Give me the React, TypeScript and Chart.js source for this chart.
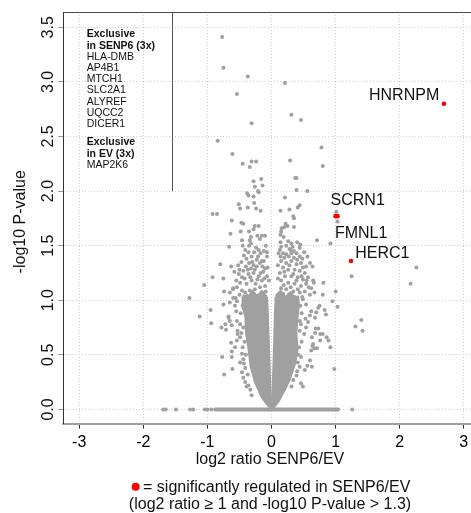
import React, { useEffect, useRef } from "react";
import { Chart, registerables } from "chart.js";

Chart.register(...registerables);

// ---------- data ----------
const xTickValues = [-3, -2, -1, 0, 1, 2, 3];
const yTickValues = [0, 0.5, 1, 1.5, 2, 2.5, 3, 3.5];
const yTickLabels = ["0.0", "0.5", "1.0", "1.5", "2.0", "2.5", "3.0", "3.5"];

// individual (non-significant) proteins: [log2 ratio, -log10 P]
const greyPoints: [number, number][] = [
  [-0.77, 3.41], [-0.75, 3.13], [-0.37, 3.05], [-0.54, 2.89], [-0.31, 2.62], [0.21, 2.99], [0.31, 2.7], [0.46, 2.65],
  [-0.84, 2.46], [-0.61, 2.34], [-0.45, 2.25], [-0.31, 2.27], [-0.24, 2.27], [-0.34, 2.22], [0.29, 2.28], [0.78, 2.4], [0.8, 2.23],
  [-0.28, 2.09], [-0.16, 2.11], [-0.26, 2.04], [-0.14, 2.05], [-0.21, 2.0], [0.37, 2.12], [0.39, 2.12], [0.39, 2.01], [0.56, 2.0],
  [0.21, 1.94], [-0.38, 1.98], [-0.36, 1.96], [-0.28, 1.95], [-0.2, 1.99],
  [-0.27, 1.89], [-0.51, 1.88], [-0.49, 1.84], [-0.37, 1.85], [-0.24, 1.84], [-0.17, 1.82],
  [-0.92, 1.79], [-0.85, 1.79], [-0.62, 1.73], [-0.64, 1.61], [-0.66, 1.49], [-0.8, 1.33], [-0.63, 1.31], [-0.92, 1.21],
  [-0.75, 1.2], [-1.05, 1.14], [-0.58, 1.26], [-1.28, 1.02], [-0.74, 1.08], [-0.95, 0.91], [-0.75, 0.96], [-1.12, 0.85],
  [-0.94, 0.79], [-0.67, 0.84], [-0.78, 0.75], [-0.71, 0.73], [-0.72, 0.78], [-0.63, 0.61], [-0.77, 0.48], [-0.62, 0.53],
  [-0.74, 0.32], [-0.61, 0.37], [-0.62, 0.48], [-0.6, 1.11], [-0.54, 0.99], [-0.55, 0.9],
  [-0.47, 1.71], [-0.44, 1.7], [-0.26, 1.68], [-0.2, 1.68], [-0.48, 1.63], [-0.35, 1.63], [-0.28, 1.65], [-0.32, 1.58],
  [-0.34, 1.55], [-0.32, 1.52], [-0.35, 1.5], [-0.22, 1.59], [-0.15, 1.59], [-0.1, 1.59], [-0.18, 1.56], [-0.46, 1.55],
  [-0.45, 1.5], [-0.24, 1.48], [-0.2, 1.46], [-0.12, 1.45], [-0.07, 1.44], [-0.41, 1.46], [-0.43, 1.41], [-0.39, 1.38],
  [-0.31, 1.4], [-0.17, 1.43], [-0.23, 1.37], [-0.15, 1.36], [-0.07, 1.4],
  [-0.5, 1.28], [-0.51, 1.24], [-0.46, 1.21],
  [-0.4, 1.31], [-0.35, 1.34], [-0.32, 1.29], [-0.28, 1.32], [-0.23, 1.31], [-0.26, 1.28], [-0.18, 1.34], [-0.14, 1.31], [-0.1, 1.29],
  [-0.39, 1.15], [-0.49, 1.16], [-0.31, 1.18], [-0.22, 1.19], [-0.15, 1.18], [-0.36, 1.24], [-0.28, 1.25], [-0.2, 1.22],
  [-0.13, 1.26], [-0.07, 1.22], [-0.04, 1.18], [-0.1, 1.13], [-0.18, 1.12], [-0.26, 1.1], [-0.34, 1.09], [-0.41, 1.07],
  [-0.46, 1.09], [-0.54, 1.12], [-0.6, 1.1], [-0.65, 1.07],
  [-0.44, 1.02], [-0.38, 1.04], [-0.3, 1.06], [-0.22, 1.04], [-0.14, 1.06], [-0.09, 1.08], [-0.42, 1.2], [-0.33, 1.21],
  [-0.25, 1.15], [-0.17, 1.25], [-0.11, 1.2], [-0.06, 1.3], [-0.44, 1.27], [-0.37, 1.28], [-0.3, 1.35], [-0.21, 1.4],
  [-0.12, 1.36], [-0.09, 1.5], [-0.27, 1.44], [-0.36, 1.44], [-0.47, 1.35], [-0.52, 1.32], [-0.55, 1.18], [-0.5, 1.05], [-0.56, 1.02],
  [-0.45, 0.95], [-0.48, 0.88], [-0.44, 0.75], [-0.47, 0.7], [-0.42, 0.62], [-0.45, 0.57], [-0.4, 0.5], [-0.41, 0.38], [-0.37, 0.32],
  [0.44, 1.87], [0.41, 1.85], [0.14, 1.82], [0.28, 1.83], [0.34, 1.77], [0.35, 1.75], [0.22, 1.7], [0.25, 1.68], [0.16, 1.66],
  [0.2, 1.67], [0.15, 1.63], [0.35, 1.67], [0.14, 1.6], [0.19, 1.58], [0.71, 1.55], [0.92, 1.52],
  [0.14, 1.53], [0.15, 1.49], [0.26, 1.54], [0.31, 1.52], [0.23, 1.5], [0.4, 1.53], [0.45, 1.51], [0.44, 1.48], [0.33, 1.49],
  [0.28, 1.47], [0.35, 1.45], [0.13, 1.46], [0.18, 1.43], [0.14, 1.4], [0.23, 1.42], [0.27, 1.4], [0.31, 1.43], [0.39, 1.43],
  [0.44, 1.4], [0.51, 1.44], [0.56, 1.4],
  [0.15, 1.36], [0.23, 1.34], [0.31, 1.36], [0.39, 1.33], [0.46, 1.34], [0.54, 1.31], [0.6, 1.34], [0.18, 1.3], [0.26, 1.28],
  [0.36, 1.28], [0.44, 1.27], [0.52, 1.25], [0.13, 1.25], [0.21, 1.22], [0.31, 1.22], [0.41, 1.21], [0.49, 1.19], [0.57, 1.21],
  [0.65, 1.18], [0.15, 1.18], [0.26, 1.16], [0.36, 1.15], [0.46, 1.13], [0.54, 1.15], [0.62, 1.11], [0.15, 1.11], [0.23, 1.1],
  [0.34, 1.08], [0.44, 1.07], [0.52, 1.08], [0.6, 1.05], [0.67, 1.07],
  [0.1, 1.05], [0.18, 1.06], [0.27, 1.05], [0.36, 1.03], [0.41, 1.1], [0.48, 1.03], [0.1, 1.2], [0.19, 1.14], [0.3, 1.12],
  [0.39, 1.18], [0.47, 1.22], [0.1, 1.32], [0.2, 1.26], [0.28, 1.32], [0.34, 1.24], [0.4, 1.37], [0.49, 1.3], [0.11, 1.43],
  [0.2, 1.39], [0.35, 1.39], [0.48, 1.38], [0.3, 1.46], [0.55, 1.18], [0.58, 1.12],
  [0.45, 0.95], [0.47, 0.88], [0.44, 0.72], [0.47, 0.62], [0.43, 0.57], [0.42, 0.5], [0.4, 0.35],
  [1.01, 1.81], [1.03, 1.72], [1.25, 1.22], [2.26, 1.3], [2.17, 1.15], [0.81, 1.16], [0.66, 1.16], [1.0, 1.08], [1.03, 0.94],
  [1.4, 0.82], [1.31, 0.76], [1.42, 0.72], [0.98, 0.37],
  [0.63, 0.66], [0.68, 0.7], [0.76, 0.69], [0.8, 0.69], [0.86, 0.66], [0.89, 0.63], [0.92, 0.57], [0.69, 0.74], [0.64, 0.58],
  [0.71, 0.56], [0.76, 0.63],
  [0.73, 0.93], [0.75, 0.95], [0.49, 1.01], [0.54, 0.96], [0.62, 0.9], [0.6, 0.86], [0.65, 0.6], [0.67, 0.56], [0.62, 0.54],
  [0.51, 0.69], [0.54, 0.75], [0.46, 0.78], [0.44, 0.81], [0.53, 0.83], [0.57, 0.8], [0.6, 0.45], [0.56, 0.4], [0.52, 0.36],
  [0.46, 0.48], [0.41, 0.43], [0.44, 0.39], [0.39, 0.31], [0.46, 0.24], [0.34, 0.27], [0.31, 0.21],
  [0.95, 0.99], [0.8, 1.05], [0.83, 0.91], [0.85, 0.87], [0.64, 1.31], [0.7, 0.89], [0.68, 0.84], [0.73, 0.74], [0.63, 0.39], [0.49, 0.21],
  [-0.6, 1.02], [-0.65, 0.98], [-0.57, 0.95], [-0.67, 0.85], [-0.65, 0.81], [-0.62, 0.77], [-0.54, 0.81], [-0.49, 0.78],
  [-0.53, 0.72], [-0.53, 0.69], [-0.49, 0.66], [-0.54, 0.63], [-0.57, 0.57], [-0.46, 0.51], [-0.44, 0.46], [-0.49, 0.43],
  [-0.43, 0.42], [-0.46, 0.34], [-0.44, 0.29], [-0.41, 0.25], [-0.39, 0.21], [-0.33, 0.18], [-0.31, 0.13], [-0.36, 0.22],
];

// proteins with -log10 P = 0 outside the dense run
const zeroRowX = [-1.69, -1.65, -1.49, -1.27, -1.22, -1.04, -1.0, -0.94, 1.26];
// continuous runs of overlapping proteins at -log10 P = 0
const zeroRuns: [number, number][] = [[-0.88, 0.65], [0.68, 0.8], [0.83, 1.04]];

// outlines of the saturated (fully overlapping) cores of the volcano
const coreLeft: [number, number][] = [
  [-0.08, 1.03], [-0.15, 1.08], [-0.22, 1.03], [-0.3, 1.08], [-0.37, 1.01], [-0.43, 1.04], [-0.45, 0.95], [-0.4, 0.85],
  [-0.39, 0.7], [-0.35, 0.55], [-0.32, 0.4], [-0.25, 0.25], [-0.15, 0.12], [-0.08, 0.06], [-0.02, 0.02], [-0.01, 0.06],
  [-0.025, 0.18], [-0.045, 0.54], [-0.07, 0.95], [-0.08, 1.03],
];
const coreRight: [number, number][] = [
  [0.07, 1.03], [0.14, 1.08], [0.22, 1.02], [0.3, 1.07], [0.37, 1.0], [0.41, 1.03], [0.42, 0.95], [0.4, 0.85], [0.38, 0.7],
  [0.4, 0.55], [0.36, 0.42], [0.28, 0.28], [0.2, 0.18], [0.11, 0.08], [0.03, 0.02], [0.01, 0.06], [0.025, 0.18],
  [0.045, 0.54], [0.065, 0.95], [0.07, 1.03],
];

// significantly regulated
const sigGenes = ["HNRNPM", "SCRN1", "FMNL1", "HERC1"];
const sigLog2 = [2.69, 1.0, 1.03, 1.24];
const sigP = [2.8, 1.77, 1.77, 1.36];

const exclusiveSenp6 = ["HLA-DMB", "AP4B1", "MTCH1", "SLC2A1", "ALYREF", "UQCC2", "DICER1"];
const exclusiveEv = ["MAP2K6"];

// ---------- styles ----------
const GREY = "#a0a0a0";
const RED = "#ff0000";
const FONT = "'Liberation Sans', Arial, Helvetica, sans-serif";
const legendEdge = { x: -1.55, y: 2.0 };
// [dx, dy(baseline), align] relative to point pixel
const labelOffsets: [number, number, CanvasTextAlign][] = [
  [-4.7, -3.3, "right"],
  [-5, -11.4, "left"],
  [-2.6, 22, "left"],
  [4.3, -3.3, "left"],
];

const annotate = {
  id: "annotate",
  afterDatasetsDraw(chart: any) {
    const { ctx, chartArea: a, scales } = chart;
    const xs = scales.x;
    const ys = scales.y;
    ctx.save();
    // top frame line
    ctx.strokeStyle = "#4a4a4a";
    ctx.lineWidth = 1;
    ctx.beginPath();
    ctx.moveTo(a.left, a.top + 0.5);
    ctx.lineTo(chart.width, a.top + 0.5);
    ctx.stroke();
    // legend box edge
    const bx = Math.round(xs.getPixelForValue(legendEdge.x)) + 0.5;
    ctx.strokeStyle = "#555";
    ctx.beginPath();
    ctx.moveTo(bx, a.top);
    ctx.lineTo(bx, ys.getPixelForValue(legendEdge.y));
    ctx.stroke();

    // legend text
    ctx.fillStyle = "#111";
    ctx.textAlign = "left";
    ctx.textBaseline = "alphabetic";
    const lx = a.left + 23.5;
    let by = a.top + 25.4;
    const lh = 11.2;
    ctx.font = `bold 10.5px ${FONT}`;
    ctx.fillText("Exclusive", lx, by); by += lh;
    ctx.fillText("in SENP6 (3x)", lx, by); by += lh;
    ctx.font = `10.5px ${FONT}`;
    exclusiveSenp6.forEach((g) => { ctx.fillText(g, lx, by); by += lh; });
    by += 7.2;
    ctx.font = `bold 10.5px ${FONT}`;
    ctx.fillText("Exclusive", lx, by); by += lh;
    ctx.fillText("in EV (3x)", lx, by); by += lh;
    ctx.font = `10.5px ${FONT}`;
    exclusiveEv.forEach((g) => { ctx.fillText(g, lx, by); by += lh; });

    // gene labels
    ctx.font = `16px ${FONT}`;
    sigGenes.forEach((g, i) => {
      const px = xs.getPixelForValue(sigLog2[i]);
      const py = ys.getPixelForValue(sigP[i]);
      const [dx, dy, al] = labelOffsets[i];
      ctx.textAlign = al;
      ctx.fillText(g, px + dx, py + dy);
    });

    // y tick labels (rotated)
    ctx.textAlign = "center";
    ctx.textBaseline = "middle";
    ctx.font = `16px ${FONT}`;
    yTickValues.forEach((v, i) => {
      const py = ys.getPixelForValue(v);
      ctx.save();
      ctx.translate(a.left - 15, py);
      ctx.rotate(-Math.PI / 2);
      ctx.fillText(yTickLabels[i], 0, 0);
      ctx.restore();
    });
    // y title
    ctx.save();
    ctx.translate(a.left - 43, (a.top + a.bottom) / 2 + 4);
    ctx.rotate(-Math.PI / 2);
    ctx.fillText("-log10 P-value", 0, 0);
    ctx.restore();

    // x title
    const x0 = xs.getPixelForValue(0);
    ctx.textBaseline = "alphabetic";
    ctx.fillText("log2 ratio SENP6/EV", x0 - 1.5, a.bottom + 39.9);

    // footnote
    const c1 = x0 + 5.2;
    const t1 = "= significantly regulated in SENP6/EV";
    const w1 = ctx.measureText(t1).width;
    ctx.fillText(t1, c1, a.bottom + 68.1);
    ctx.fillStyle = RED;
    ctx.beginPath();
    ctx.arc(c1 - w1 / 2 - 7.4, a.bottom + 63.1, 4, 0, Math.PI * 2);
    ctx.fill();
    ctx.fillStyle = "#111";
    ctx.fillText("(log2 ratio \u2265 1 and -log10 P-value > 1.3)", x0 - 1.5, a.bottom + 84.9);
    ctx.restore();
  },
};

export default function App() {
  const ref = useRef<HTMLCanvasElement | null>(null);
  useEffect(() => {
    if (!ref.current) return;
    const runData: any[] = [];
    zeroRuns.forEach(([s, e]) => {
      runData.push({ x: s, y: 0 }, { x: e, y: 0 }, { x: e + 0.001, y: null });
    });
    const greyData = [
      ...greyPoints.map(([x, y]) => ({ x, y })),
      ...zeroRowX.map((x) => ({ x, y: 0 })),
    ];
    const coreStyle = {
      type: "line",
      fill: "shape",
      backgroundColor: GREY,
      borderColor: GREY,
      borderWidth: 3,
      borderJoinStyle: "round",
      pointRadius: 0,
      tension: 0,
    };
    const chart = new Chart(ref.current, {
      type: "scatter",
      data: {
        datasets: [
          { ...coreStyle, data: coreLeft.map(([x, y]) => ({ x, y })) } as any,
          { ...coreStyle, data: coreRight.map(([x, y]) => ({ x, y })) } as any,
          {
            type: "line",
            data: runData,
            fill: false,
            borderColor: GREY,
            borderWidth: 4,
            borderCapStyle: "round",
            pointRadius: 0,
            spanGaps: false,
          } as any,
          {
            data: greyData,
            backgroundColor: GREY,
            borderWidth: 0,
            pointRadius: 2,
          },
          {
            data: sigLog2.map((x, i) => ({ x, y: sigP[i] })),
            backgroundColor: RED,
            borderWidth: 0,
            pointRadius: 2.3,
          },
        ],
      },
      options: {
        responsive: false,
        animation: false,
        events: [],
        layout: { padding: { left: 0, top: 1, right: 18.2, bottom: 0 } },
        plugins: { legend: { display: false }, tooltip: { enabled: false } },
        scales: {
          x: {
            type: "linear",
            min: -3.25,
            max: 3.25,
            afterBuildTicks: (s: any) => { s.ticks = xTickValues.map((v) => ({ value: v })); },
            afterFit: (s: any) => { s.height = 89.4; },
            ticks: {
              callback: (v: any) => String(v),
              color: "#000",
              font: { family: FONT, size: 16 },
              padding: 4,
              maxRotation: 0,
              autoSkip: false,
              includeBounds: false,
            },
            grid: {
              color: "#cfcfcf",
              lineWidth: 1,
              tickLength: 5,
              tickColor: "#333",
              tickBorderDash: [],
            } as any,
            border: { color: "#a0a0a0", width: 2, dash: [1, 2] },
          },
          y: {
            type: "linear",
            min: -0.13,
            max: 3.64,
            afterBuildTicks: (s: any) => { s.ticks = yTickValues.map((v) => ({ value: v })); },
            afterFit: (s: any) => { s.width = 55.2; },
            ticks: { display: false, includeBounds: false },
            grid: {
              color: "#cfcfcf",
              lineWidth: 1,
              tickLength: 5,
              tickColor: "#999",
              tickBorderDash: [],
            } as any,
            border: { color: "#333", width: 1, dash: [1, 2] },
          },
        },
      },
      plugins: [annotate],
    });
    return () => chart.destroy();
  }, []);
  return (
    <div style={{ position: "absolute", left: 8, top: 8, width: 463, height: 505, overflow: "hidden", background: "#fff" }}>
      <canvas ref={ref} width={490} height={505} style={{ display: "block" }} />
    </div>
  );
}
